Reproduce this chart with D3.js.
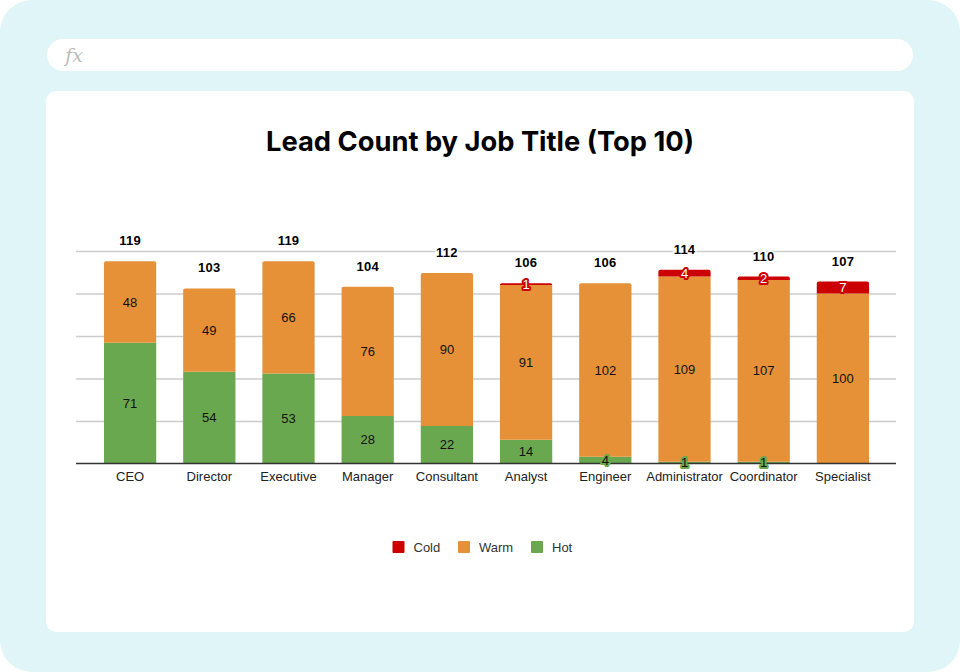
<!DOCTYPE html>
<html><head><meta charset="utf-8">
<script src="https://cdn.jsdelivr.net/npm/d3@7"></script>
<style>html,body{margin:0;padding:0;background:#fff}svg{display:block}</style>
</head><body><svg id="c" width="960" height="672"></svg>
<script>
const categories=["CEO","Director","Executive","Manager","Consultant","Analyst","Engineer","Administrator","Coordinator","Specialist"];
const hot=[71,54,53,28,22,14,4,1,1,0];
const warm=[48,49,66,76,90,91,102,109,107,100];
const cold=[0,0,0,0,0,1,0,4,2,7];
const seriesNames=["Hot","Warm","Cold"];
const legendOrder=["Cold","Warm","Hot"];
const gridTicks=[25,50,75,100,125];
const colors={Hot:"#6aa84f",Warm:"#e69138",Cold:"#cc0000"};
const labelColors={Hot:"#111111",Warm:"#111111",Cold:"#ffffff"};
const title="Lead Count by Job Title (Top 10)";

const svg=d3.select("#c");
const SANS="'Liberation Sans',Arial,sans-serif";
// page frame
svg.append("rect").attr("width",960).attr("height",672).attr("rx",32).attr("fill","#dff5f7");
svg.append("rect").attr("x",47).attr("y",39).attr("width",866).attr("height",32).attr("rx",16).attr("fill","#fff");
svg.append("text").attr("x",74).attr("y",62).attr("text-anchor","middle").attr("font-family","'DejaVu Serif','Liberation Serif',serif").attr("font-style","italic").attr("font-size",19).attr("fill","#bdbdbd").text("fx");
svg.append("rect").attr("x",46).attr("y",91).attr("width",868).attr("height",541).attr("rx",10).attr("fill","#fff");
svg.append("text").attr("x",480).attr("y",151).attr("text-anchor","middle").attr("font-family","Inter,sans-serif").attr("font-weight",700).attr("font-size",27.3).attr("fill","#000").text(title);

const x=d3.scaleBand().domain(categories).range([90.5,882.5]).paddingInner(0.34).paddingOuter(0.17);
const y=d3.scaleLinear().domain([0,125]).range([463.5,251]);

const rows=categories.map((c,i)=>({cat:c,Hot:hot[i],Warm:warm[i],Cold:cold[i],total:hot[i]+warm[i]+cold[i]}));
const stacked=d3.stack().keys(seriesNames)(rows);

// gridlines
const yAxis=d3.axisLeft(y).tickValues(gridTicks).tickSize(-820).tickFormat("");
const gy=svg.append("g").attr("transform","translate(76,0)").call(yAxis);
gy.select(".domain").remove();
gy.selectAll("line").attr("stroke","#cccccc").attr("stroke-width",1.4);

// bars
const roundTop=(x0,y0,w,h,r)=>{r=Math.min(r,h);return `M${x0},${y0+h}V${y0+r}Q${x0},${y0} ${x0+r},${y0}H${x0+w-r}Q${x0+w},${y0} ${x0+w},${y0+r}V${y0+h}Z`;};
stacked.forEach(s=>{
  svg.append("g").selectAll("path").data(s.filter(d=>d[1]>d[0])).join("path")
    .attr("d",d=>{
      const x0=x(d.data.cat),w=x.bandwidth(),t=y(d[1]),h=y(d[0])-y(d[1]);
      const top=d[1]===d.data.total;
      return top?roundTop(x0,t,w,h,2):`M${x0},${t}h${w}v${h}h${-w}Z`;
    }).attr("fill",colors[s.key]);
});

// baseline
svg.append("line").attr("x1",76).attr("x2",896).attr("y1",y(0)).attr("y2",y(0)).attr("stroke","#333").attr("stroke-width",1.5);

// segment labels
stacked.forEach(s=>{
  svg.append("g").selectAll("text").data(s.filter(d=>d[1]>d[0])).join("text")
    .attr("x",d=>x(d.data.cat)+x.bandwidth()/2)
    .attr("y",d=>y((d[0]+d[1])/2)+4.5)
    .attr("text-anchor","middle").attr("font-family",SANS).attr("font-size",13)
    .attr("fill",labelColors[s.key])
    .attr("stroke",colors[s.key]).attr("stroke-width",4).attr("stroke-linejoin","round").attr("paint-order","stroke")
    .text(d=>d[1]-d[0]);
});

// totals
svg.append("g").selectAll("text").data(rows).join("text")
  .attr("x",d=>x(d.cat)+x.bandwidth()/2).attr("y",d=>y(d.total)-16)
  .attr("text-anchor","middle").attr("font-family",SANS).attr("font-weight",700).attr("font-size",13).attr("letter-spacing",0.25).attr("fill","#000")
  .attr("stroke","#fff").attr("stroke-width",3).attr("paint-order","stroke")
  .text(d=>d.total);

// category labels
const xAxis=d3.axisBottom(x).tickSize(0).tickPadding(0);
const gx=svg.append("g").attr("transform","translate(0,471.5)").call(xAxis);
gx.select(".domain").remove();
gx.selectAll("text").attr("font-family",SANS).attr("font-size",13).attr("fill","#222");

// legend
const lx={Cold:392.5,Warm:458,Hot:531};
const lg=svg.append("g").selectAll("g").data(legendOrder).join("g").attr("transform",d=>`translate(${lx[d]},541)`);
lg.append("rect").attr("width",12).attr("height",12).attr("rx",1).attr("fill",d=>colors[d]);
lg.append("text").attr("x",21).attr("y",10.5).attr("font-family",SANS).attr("font-size",13).attr("fill","#333").text(d=>d);
</script></body></html>
